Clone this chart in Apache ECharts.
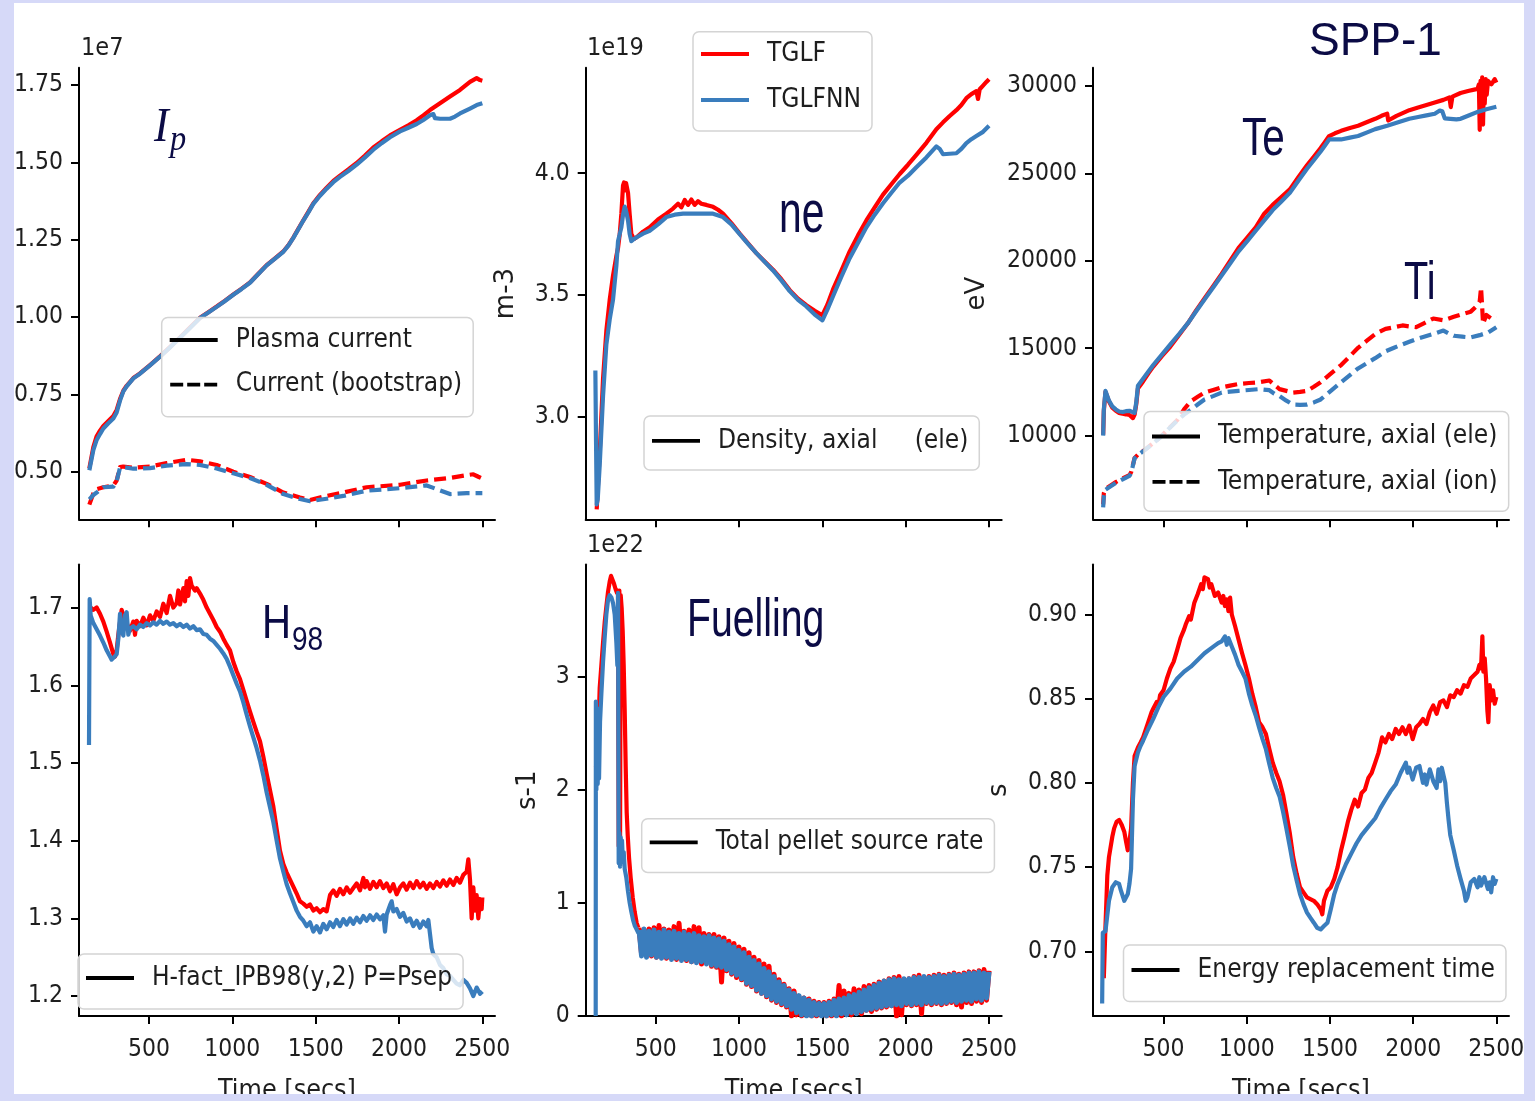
<!DOCTYPE html>
<html>
<head>
<meta charset="utf-8">
<title>SPP-1 : TGLF vs TGLFNN</title>
<script src="https://cdn.jsdelivr.net/npm/echarts@6.0.0/dist/echarts.min.js"></script>
<style>
html,body{margin:0;padding:0;background:#d6d9f8;overflow:hidden;}
#chart{width:1535px;height:1101px;}
</style>
</head>
<body>
<div id="chart"></div>
<script>
// ===================== DATA =====================
const xTicks = [500, 1000, 1500, 2000, 2500];
const ipTicks = [0.50, 0.75, 1.00, 1.25, 1.50, 1.75];
const neTicks = [3.0, 3.5, 4.0];
const teTicks = [10000, 15000, 20000, 25000, 30000];
const h98Ticks = [1.2, 1.3, 1.4, 1.5, 1.6, 1.7];
const fuelTicks = [0, 1, 2, 3];
const tauTicks = [0.70, 0.75, 0.80, 0.85, 0.90];

// Plasma current (1e7 A)
const ipTGLF = [[142,0.511],[166,0.580],[186,0.615],[206,0.633],[226,0.648],[256,0.664],[286,0.680],[306,0.700],[326,0.735],[346,0.762],[366,0.778],[406,0.803],[446,0.818],[506,0.845],[566,0.873],[626,0.903],[686,0.934],[746,0.966],[806,0.998],[856,1.016],[906,1.034],[956,1.053],[1006,1.073],[1056,1.092],[1106,1.112],[1156,1.140],[1206,1.168],[1256,1.190],[1306,1.212],[1336,1.232],[1366,1.257],[1396,1.285],[1426,1.313],[1456,1.340],[1486,1.368],[1526,1.395],[1566,1.418],[1606,1.440],[1646,1.457],[1696,1.477],[1746,1.498],[1796,1.522],[1846,1.548],[1896,1.568],[1946,1.587],[2006,1.605],[2056,1.620],[2106,1.636],[2146,1.652],[2186,1.669],[2246,1.691],[2306,1.713],[2366,1.734],[2426,1.760],[2466,1.772],[2486,1.766],[2500,1.764]];
const ipTGLFNN = [[142,0.505],[166,0.570],[186,0.603],[206,0.622],[226,0.640],[256,0.657],[286,0.672],[306,0.692],[326,0.730],[346,0.760],[366,0.776],[406,0.802],[446,0.817],[506,0.844],[566,0.872],[626,0.902],[686,0.933],[746,0.965],[806,0.997],[856,1.015],[906,1.033],[956,1.052],[1006,1.072],[1056,1.091],[1106,1.111],[1156,1.139],[1206,1.167],[1256,1.189],[1306,1.211],[1336,1.231],[1366,1.256],[1396,1.284],[1426,1.312],[1456,1.338],[1486,1.366],[1526,1.392],[1566,1.415],[1606,1.436],[1646,1.453],[1696,1.472],[1746,1.493],[1796,1.516],[1846,1.541],[1896,1.562],[1946,1.581],[2006,1.600],[2056,1.612],[2106,1.624],[2146,1.637],[2186,1.652],[2206,1.656],[2216,1.643],[2246,1.641],[2306,1.641],[2336,1.648],[2366,1.658],[2426,1.674],[2466,1.685],[2500,1.691]];
const ibsTGLF = [[142,0.394],[166,0.430],[186,0.444],[226,0.450],[286,0.456],[306,0.472],[326,0.515],[346,0.517],[406,0.513],[506,0.517],[606,0.528],[726,0.539],[806,0.534],[906,0.522],[1006,0.500],[1106,0.483],[1206,0.461],[1306,0.433],[1406,0.417],[1466,0.409],[1566,0.422],[1666,0.433],[1806,0.450],[2006,0.458],[2166,0.472],[2306,0.480],[2406,0.489],[2446,0.492],[2476,0.484],[2500,0.478]];
const ibsTGLFNN = [[142,0.411],[166,0.425],[186,0.433],[226,0.450],[286,0.452],[306,0.470],[326,0.513],[346,0.515],[406,0.510],[506,0.512],[606,0.520],[726,0.525],[806,0.522],[906,0.511],[1006,0.495],[1106,0.480],[1206,0.458],[1306,0.428],[1406,0.412],[1466,0.405],[1566,0.413],[1666,0.422],[1806,0.439],[2006,0.447],[2166,0.456],[2206,0.448],[2246,0.440],[2306,0.428],[2406,0.431],[2500,0.431]];

// Axial electron density (1e19 m-3)
const neTGLF = [[146,2.62],[152,2.70],[164,2.85],[184,3.156],[204,3.354],[224,3.48],[244,3.58],[264,3.66],[274,3.693],[284,3.75],[294,3.834],[304,3.95],[310,3.962],[316,3.93],[322,3.96],[334,3.919],[344,3.83],[354,3.75],[370,3.73],[384,3.736],[424,3.76],[464,3.778],[514,3.81],[564,3.834],[604,3.855],[634,3.875],[654,3.86],[674,3.89],[694,3.87],[714,3.892],[734,3.87],[754,3.885],[774,3.875],[804,3.870],[844,3.862],[874,3.85],[904,3.834],[954,3.795],[1004,3.752],[1054,3.712],[1104,3.672],[1154,3.638],[1204,3.604],[1254,3.565],[1304,3.520],[1354,3.485],[1404,3.458],[1454,3.435],[1500,3.417],[1530,3.46],[1564,3.523],[1614,3.600],[1664,3.679],[1714,3.745],[1764,3.806],[1814,3.860],[1864,3.912],[1914,3.955],[1964,3.997],[2014,4.035],[2064,4.075],[2124,4.125],[2184,4.181],[2224,4.209],[2264,4.235],[2304,4.259],[2334,4.280],[2364,4.308],[2394,4.325],[2424,4.337],[2434,4.305],[2444,4.345],[2464,4.360],[2484,4.375],[2500,4.386]];
const neTGLFNN = [[138,3.19],[142,2.90],[146,2.64],[152,2.66],[164,2.80],[184,3.085],[204,3.297],[224,3.40],[244,3.481],[264,3.62],[274,3.721],[284,3.75],[294,3.778],[304,3.83],[314,3.863],[324,3.84],[334,3.806],[344,3.75],[354,3.721],[370,3.73],[384,3.736],[424,3.752],[464,3.764],[514,3.79],[564,3.820],[614,3.830],[664,3.834],[744,3.834],[844,3.834],[904,3.820],[954,3.79],[1004,3.750],[1054,3.71],[1104,3.672],[1154,3.636],[1204,3.601],[1254,3.56],[1304,3.516],[1354,3.48],[1404,3.453],[1454,3.42],[1500,3.396],[1530,3.44],[1564,3.495],[1614,3.575],[1664,3.651],[1714,3.715],[1764,3.778],[1814,3.83],[1864,3.877],[1914,3.92],[1964,3.962],[2014,3.99],[2064,4.025],[2124,4.065],[2184,4.110],[2204,4.100],[2224,4.078],[2264,4.080],[2304,4.082],[2334,4.10],[2364,4.124],[2394,4.14],[2424,4.153],[2464,4.17],[2500,4.195]];

// Axial temperatures (eV)
const teTGLF = [[137,10050],[141,11400],[151,12500],[172,11950],[192,11600],[213,11420],[233,11300],[254,11250],[274,11220],[295,11183],[305,11150],[316,11000],[326,11200],[336,11800],[346,12700],[377,13100],[408,13550],[438,13950],[490,14550],[541,15100],[592,15750],[644,16400],[695,17150],[746,17850],[798,18550],[849,19250],[900,20000],[951,20739],[1003,21330],[1054,21921],[1105,22700],[1156,23202],[1208,23650],[1259,24089],[1310,24780],[1362,25468],[1403,25960],[1444,26453],[1470,26800],[1495,27143],[1530,27300],[1567,27438],[1620,27600],[1669,27734],[1720,27930],[1772,28128],[1810,28300],[1844,28424],[1850,28030],[1900,28300],[1977,28621],[2030,28770],[2080,28916],[2130,29060],[2182,29212],[2218,29350],[2226,28800],[2236,29400],[2285,29606],[2330,29720],[2387,29842],[2395,30100],[2400,27500],[2405,30300],[2410,28300],[2415,30500],[2420,27800],[2425,30200],[2430,29000],[2436,30400],[2442,29500],[2450,30300],[2470,30100],[2490,30400],[2500,30197]];
const teTGLFNN = [[137,10000],[141,11500],[151,12562],[172,12000],[192,11675],[213,11500],[233,11380],[254,11350],[274,11400],[295,11420],[305,11478],[326,11300],[336,11900],[346,12857],[377,13252],[408,13650],[438,14040],[490,14630],[541,15222],[592,15800],[644,16404],[695,17100],[746,17783],[798,18470],[849,19163],[900,19850],[951,20542],[1003,21130],[1054,21724],[1105,22320],[1156,22907],[1208,23400],[1259,23892],[1310,24580],[1362,25271],[1403,25760],[1444,26256],[1470,26600],[1495,26946],[1530,26960],[1567,26946],[1620,27050],[1669,27143],[1720,27340],[1772,27537],[1844,27734],[1910,27930],[1977,28128],[2030,28230],[2080,28325],[2130,28420],[2160,28600],[2175,28560],[2190,28150],[2223,28128],[2260,28100],[2285,28128],[2330,28300],[2387,28522],[2440,28680],[2500,28818]];
const tiTGLF = [[137,6060],[141,6700],[151,6947],[182,7150],[213,7340],[254,7550],[295,7734],[305,7900],[326,8720],[350,8950],[377,9114],[428,9500],[479,9902],[530,10390],[582,10887],[623,11500],[664,11971],[705,12220],[746,12463],[798,12610],[849,12759],[900,12860],[951,12956],[1013,13010],[1074,13055],[1136,13153],[1166,12900],[1197,12660],[1238,12560],[1279,12463],[1320,12500],[1362,12562],[1403,12800],[1444,13055],[1505,13550],[1567,14040],[1618,14530],[1669,15025],[1720,15420],[1772,15812],[1834,16108],[1885,16200],[1936,16305],[1977,16250],[2018,16207],[2070,16450],[2121,16700],[2182,16602],[2244,16798],[2295,16950],[2346,17094],[2380,17400],[2400,17685],[2408,18473],[2414,17500],[2420,16404],[2440,16900],[2470,16700],[2500,16798]];
const tiTGLFNN = [[137,5900],[141,6500],[151,6900],[182,7100],[213,7300],[254,7500],[295,7700],[305,7850],[326,8700],[350,8930],[377,9100],[428,9480],[479,9880],[530,10380],[582,10850],[623,11200],[664,11478],[705,11780],[746,12069],[798,12260],[849,12463],[900,12520],[951,12562],[1013,12610],[1074,12660],[1136,12600],[1166,12400],[1197,12266],[1238,12000],[1279,11774],[1320,11760],[1362,11774],[1403,11900],[1444,12069],[1505,12560],[1567,13055],[1618,13450],[1669,13843],[1720,14140],[1772,14434],[1834,14828],[1885,15030],[1936,15222],[1977,15370],[2018,15517],[2070,15670],[2121,15813],[2182,16010],[2213,15850],[2244,15714],[2295,15660],[2346,15616],[2400,15750],[2450,15900],[2500,16207]];

// H98 confinement factor
const h98TGLF = [[150,1.700],[156,1.701],[166,1.697],[186,1.700],[206,1.692],[226,1.682],[246,1.669],[266,1.655],[286,1.640],[296,1.637],[306,1.645],[316,1.665],[336,1.697],[346,1.690],[366,1.680],[386,1.670],[406,1.682],[416,1.665],[426,1.683],[446,1.676],[466,1.687],[486,1.677],[506,1.690],[526,1.683],[546,1.695],[566,1.688],[586,1.705],[606,1.693],[626,1.715],[646,1.700],[666,1.706],[676,1.722],[686,1.704],[706,1.725],[716,1.708],[726,1.734],[736,1.715],[746,1.738],[756,1.728],[766,1.730],[776,1.722],[786,1.725],[806,1.718],[826,1.710],[846,1.700],[866,1.692],[886,1.684],[906,1.675],[926,1.669],[946,1.660],[966,1.652],[986,1.645],[1006,1.630],[1026,1.618],[1046,1.608],[1066,1.594],[1086,1.580],[1106,1.566],[1126,1.553],[1146,1.540],[1166,1.528],[1186,1.508],[1206,1.486],[1226,1.465],[1246,1.444],[1266,1.415],[1286,1.387],[1306,1.370],[1326,1.359],[1346,1.350],[1366,1.341],[1386,1.332],[1406,1.322],[1426,1.319],[1446,1.315],[1466,1.318],[1486,1.310],[1506,1.313],[1526,1.308],[1546,1.312],[1566,1.309],[1586,1.330],[1606,1.336],[1626,1.329],[1646,1.338],[1666,1.331],[1686,1.340],[1706,1.333],[1726,1.339],[1746,1.345],[1766,1.336],[1786,1.352],[1796,1.340],[1806,1.348],[1826,1.338],[1846,1.347],[1866,1.340],[1886,1.348],[1906,1.339],[1926,1.345],[1946,1.335],[1966,1.344],[1986,1.331],[2006,1.340],[2026,1.345],[2046,1.337],[2066,1.346],[2086,1.339],[2106,1.348],[2126,1.340],[2146,1.346],[2166,1.338],[2186,1.345],[2206,1.339],[2226,1.347],[2246,1.341],[2266,1.349],[2286,1.342],[2306,1.350],[2326,1.343],[2346,1.352],[2366,1.346],[2386,1.356],[2406,1.360],[2416,1.376],[2426,1.350],[2436,1.300],[2446,1.340],[2456,1.310],[2466,1.330],[2476,1.300],[2486,1.325],[2496,1.312],[2500,1.327]];
const h98TGLFNN = [[140,1.523],[144,1.711],[150,1.690],[166,1.680],[186,1.672],[206,1.664],[226,1.655],[246,1.645],[266,1.637],[276,1.633],[290,1.636],[306,1.640],[316,1.660],[326,1.692],[336,1.670],[346,1.664],[356,1.690],[366,1.694],[376,1.665],[386,1.673],[406,1.676],[426,1.672],[446,1.678],[466,1.675],[486,1.680],[506,1.677],[526,1.681],[546,1.678],[566,1.683],[586,1.679],[606,1.682],[626,1.678],[646,1.680],[666,1.676],[686,1.679],[706,1.675],[726,1.678],[746,1.673],[766,1.676],[786,1.671],[806,1.672],[826,1.666],[846,1.665],[866,1.660],[886,1.657],[906,1.652],[926,1.647],[946,1.641],[966,1.634],[986,1.624],[1006,1.613],[1026,1.602],[1046,1.592],[1066,1.578],[1086,1.562],[1106,1.547],[1126,1.533],[1146,1.519],[1166,1.503],[1186,1.484],[1206,1.462],[1226,1.443],[1246,1.424],[1266,1.400],[1286,1.377],[1306,1.360],[1326,1.344],[1346,1.332],[1366,1.321],[1386,1.310],[1406,1.302],[1426,1.297],[1446,1.290],[1466,1.295],[1486,1.283],[1506,1.290],[1526,1.282],[1546,1.293],[1566,1.286],[1586,1.295],[1606,1.289],[1626,1.298],[1646,1.290],[1666,1.299],[1686,1.292],[1706,1.300],[1726,1.293],[1746,1.301],[1766,1.295],[1786,1.303],[1806,1.297],[1826,1.304],[1846,1.298],[1866,1.305],[1886,1.299],[1906,1.304],[1916,1.283],[1926,1.305],[1946,1.317],[1956,1.322],[1966,1.309],[1986,1.312],[2006,1.302],[2026,1.307],[2046,1.296],[2066,1.300],[2086,1.290],[2106,1.297],[2126,1.288],[2146,1.296],[2166,1.290],[2176,1.298],[2186,1.280],[2196,1.262],[2206,1.254],[2226,1.250],[2246,1.240],[2266,1.236],[2286,1.228],[2306,1.226],[2326,1.221],[2346,1.216],[2366,1.214],[2386,1.221],[2406,1.217],[2426,1.210],[2446,1.200],[2466,1.211],[2486,1.203],[2500,1.206]];

// Total pellet source rate (1e22 s-1): rise + hand-read oscillating band (band sampled every 15 s from 400 s)
const fuelTGLFRise = [[142,2.2],[148,2.6],[156,2.5],[164,2.9],[174,3.1],[184,3.3],[194,3.48],[204,3.62],[214,3.75],[224,3.84],[232,3.89],[240,3.88],[250,3.82],[260,3.77],[268,3.74],[274,3.76],[278,1.5],[282,3.76],[286,1.45],[290,3.72],[296,3.6],[302,3.4],[308,3.1],[314,2.7],[320,2.2],[326,1.8],[332,1.6],[340,1.40],[350,1.22],[362,1.05],[374,0.92],[386,0.82],[396,0.78],[400,0.78]];
const fuelTGLFNNRise = [[140,0],[141,2.78],[144,2.0],[148,2.72],[152,2.05],[156,2.65],[160,2.1],[166,2.6],[174,2.85],[184,3.13],[194,3.35],[204,3.55],[214,3.68],[224,3.72],[234,3.70],[244,3.65],[254,3.55],[264,3.30],[270,3.10],[274,3.74],[278,1.35],[282,1.62],[286,1.32],[290,1.58],[294,1.36],[298,1.55],[302,1.40],[308,1.45],[314,1.30],[324,1.22],[334,1.10],[344,1.00],[354,0.92],[364,0.85],[374,0.80],[384,0.77],[394,0.74],[400,0.76]];
const fuelBandStart = 400;
const fuelBandStep = 15;
const fuelTGLFBand = [.78,.55,.76,.54,.77,.53,.78,.52,.80,.53,.77,.51,.76,.52,.79,.50,.82,.51,.75,.49,.76,.48,.79,.49,.78,.46,.73,.47,.72,.44,.72,.43,.70,.30,.69,.40,.66,.37,.64,.34,.61,.32,.59,.28,.56,.26,.52,.22,.49,.20,.46,.17,.44,.14,.37,.12,.32,.10,.28,.08,.24,.00,.22,.01,.17,.00,.16,.02,.15,.00,.13,.00,.12,.01,.12,.00,.13,.00,.15,.01,.27,.00,.22,.02,.20,.01,.24,.03,.23,.02,.26,.05,.27,.04,.28,.06,.30,.07,.31,.08,.33,.09,.34,.00,.35,.01,.32,.10,.33,.09,.35,.10,.36,.02,.34,.11,.35,.10,.36,.11,.37,.10,.36,.11,.37,.12,.38,.10,.37,.08,.38,.12,.39,.11,.39,.13,.40,.12,.41,.14,.40];
const fuelTGLFNNBand = [.76,.53,.77,.52,.75,.54,.76,.52,.74,.51,.76,.52,.74,.50,.75,.51,.73,.49,.74,.50,.72,.48,.73,.47,.71,.48,.70,.46,.71,.45,.69,.44,.68,.43,.66,.41,.63,.38,.61,.36,.58,.33,.56,.29,.52,.27,.49,.23,.46,.20,.42,.18,.39,.15,.35,.13,.30,.11,.27,.09,.23,.06,.20,.03,.18,.01,.16,.00,.14,.00,.12,.01,.11,.00,.11,.00,.12,.01,.14,.00,.15,.02,.16,.01,.18,.03,.19,.02,.21,.04,.23,.05,.25,.06,.27,.07,.29,.08,.31,.09,.32,.09,.33,.10,.32,.09,.33,.11,.33,.10,.34,.11,.34,.10,.35,.12,.34,.11,.35,.12,.36,.11,.35,.12,.36,.13,.37,.12,.36,.13,.37,.14,.38,.13,.38,.15,.39,.14,.38,.16,.39];

// Energy replacement time (s)
const tauTGLF = [[141,0.684],[151,0.715],[162,0.745],[172,0.756],[192,0.768],[203,0.773],[218,0.777],[233,0.778],[249,0.775],[264,0.771],[275,0.765],[285,0.760],[295,0.765],[305,0.773],[316,0.800],[326,0.816],[346,0.821],[362,0.824],[377,0.827],[408,0.836],[428,0.842],[438,0.844],[459,0.848],[469,0.846],[479,0.852],[500,0.855],[520,0.862],[541,0.868],[561,0.872],[582,0.879],[602,0.886],[623,0.891],[633,0.894],[654,0.899],[664,0.897],[685,0.907],[705,0.912],[726,0.918],[736,0.915],[746,0.922],[767,0.921],[777,0.916],[787,0.918],[808,0.911],[828,0.913],[849,0.907],[859,0.911],[869,0.905],[879,0.909],[890,0.902],[900,0.910],[910,0.900],[930,0.893],[951,0.885],[972,0.877],[992,0.870],[1013,0.862],[1033,0.853],[1054,0.845],[1074,0.836],[1095,0.833],[1115,0.829],[1136,0.820],[1156,0.812],[1177,0.806],[1197,0.801],[1218,0.793],[1238,0.782],[1259,0.770],[1279,0.756],[1300,0.746],[1320,0.738],[1341,0.735],[1362,0.732],[1382,0.731],[1403,0.730],[1423,0.728],[1444,0.725],[1454,0.722],[1464,0.730],[1485,0.736],[1505,0.738],[1526,0.743],[1546,0.750],[1567,0.760],[1587,0.768],[1608,0.777],[1628,0.784],[1649,0.790],[1669,0.786],[1690,0.794],[1710,0.796],[1731,0.803],[1751,0.806],[1772,0.812],[1792,0.818],[1813,0.827],[1833,0.824],[1854,0.829],[1874,0.826],[1895,0.832],[1915,0.829],[1936,0.833],[1956,0.829],[1977,0.834],[1997,0.826],[2018,0.833],[2038,0.835],[2059,0.838],[2080,0.835],[2100,0.842],[2121,0.846],[2141,0.841],[2162,0.848],[2182,0.849],[2203,0.845],[2223,0.852],[2244,0.851],[2264,0.855],[2285,0.853],[2305,0.858],[2326,0.857],[2346,0.862],[2367,0.864],[2387,0.866],[2398,0.870],[2408,0.868],[2416,0.887],[2422,0.866],[2430,0.874],[2438,0.862],[2446,0.843],[2452,0.836],[2460,0.858],[2470,0.849],[2480,0.855],[2490,0.847],[2500,0.851]];
const tauTGLFNN = [[131,0.669],[135,0.711],[151,0.712],[172,0.730],[192,0.738],[213,0.741],[233,0.740],[244,0.736],[264,0.730],[275,0.729],[285,0.734],[295,0.740],[305,0.749],[316,0.790],[326,0.810],[336,0.814],[346,0.818],[362,0.822],[377,0.825],[408,0.832],[438,0.838],[469,0.845],[500,0.851],[541,0.856],[582,0.862],[623,0.866],[664,0.869],[705,0.873],[746,0.877],[787,0.880],[828,0.883],[849,0.884],[869,0.887],[880,0.882],[890,0.886],[910,0.881],[930,0.876],[951,0.870],[972,0.866],[992,0.862],[1013,0.853],[1033,0.846],[1054,0.840],[1074,0.833],[1095,0.826],[1115,0.820],[1136,0.811],[1156,0.803],[1177,0.797],[1197,0.792],[1218,0.783],[1238,0.773],[1259,0.762],[1279,0.751],[1300,0.742],[1320,0.734],[1341,0.728],[1362,0.723],[1382,0.720],[1403,0.717],[1423,0.714],[1444,0.713],[1464,0.715],[1485,0.717],[1505,0.725],[1526,0.734],[1546,0.740],[1567,0.745],[1597,0.752],[1628,0.758],[1659,0.764],[1690,0.769],[1731,0.774],[1772,0.779],[1803,0.785],[1833,0.790],[1864,0.795],[1895,0.799],[1925,0.806],[1946,0.810],[1956,0.812],[1966,0.806],[1977,0.809],[1997,0.802],[2018,0.809],[2038,0.810],[2059,0.800],[2070,0.805],[2080,0.799],[2100,0.808],[2121,0.801],[2141,0.797],[2152,0.808],[2162,0.801],[2172,0.809],[2182,0.810],[2193,0.800],[2203,0.788],[2213,0.778],[2223,0.769],[2244,0.760],[2264,0.751],[2285,0.743],[2305,0.736],[2316,0.730],[2326,0.732],[2346,0.741],[2367,0.743],[2387,0.738],[2398,0.744],[2408,0.739],[2428,0.744],[2449,0.737],[2459,0.741],[2469,0.735],[2480,0.744],[2490,0.740],[2500,0.743]];

// ===================== FONTS =====================
const mctx = document.createElement('canvas').getContext('2d');
function mw(text, fam) { mctx.font = '100px ' + fam; return mctx.measureText(text).width; }
const probe = 'Temperature, axial (ele)';
const useCond = mw(probe, '"DejaVu Sans Condensed", monospace') < 0.97 * mw(probe, '"DejaVu Sans", monospace');
const REG = '"DejaVu Sans", sans-serif';
const FAM = useCond ? '"DejaVu Sans Condensed", "DejaVu Sans", sans-serif' : REG;
function fit(text, w) { return 100 * w / mw(text, FAM); }
const TICK_FS = fit('00000', 70);
const LEG_FS = fit(probe, 279.5);
const XNAME_FS = fit('Time [secs]', 138);
const OFF_FS = fit('1e19', 57);
const TXT = '#1e1e1e';
const RED = '#ff0000', BLUE = '#3a7dbd', NAVY = '#0b0b45', LAV = '#d6d9f8';
const SANS = '"Liberation Sans", Arial, sans-serif';
const SERIF = '"Liberation Serif", "DejaVu Serif", serif';
const LINE_W = 4.2;
const BAND_W = 5;

// ===================== LAYOUT =====================
const grids = [
  {left: 79, top: 67.8, width: 416, height: 451.5},
  {left: 585.7, top: 67.8, width: 416, height: 451.5},
  {left: 1093, top: 67.8, width: 416, height: 451.5},
  {left: 79, top: 564.6, width: 416, height: 451.4},
  {left: 585.7, top: 564.6, width: 416, height: 451.4},
  {left: 1093, top: 564.6, width: 416, height: 451.4}
].map(g => Object.assign({outerBoundsMode: 'none', containLabel: false}, g));

const xMins = [80, 80, 76, 80, 80, 76];

function xAxis(gi) {
  const bottom = gi >= 3;
  return {
    type: 'value', gridIndex: gi, min: xMins[gi], max: 2576,
    axisLine: {show: true, onZero: false, lineStyle: {color: '#000', width: 2}},
    axisTick: {show: true, length: 8, lineStyle: {color: '#000', width: 2}, customValues: xTicks},
    axisLabel: {show: bottom, customValues: xTicks, margin: 22, color: TXT, fontFamily: FAM, fontSize: TICK_FS, formatter: v => String(v)},
    splitLine: {show: false},
    name: bottom ? 'Time [secs]' : '', nameLocation: 'middle', nameGap: 62, nameMoveOverlap: false,
    nameTextStyle: {fontFamily: FAM, fontSize: XNAME_FS, color: TXT}
  };
}
function yAxis(gi, min, max, ticks, dec, name, gap) {
  return {
    type: 'value', gridIndex: gi, min: min, max: max,
    axisLine: {show: true, onZero: false, lineStyle: {color: '#000', width: 2}},
    axisTick: {show: true, length: 8, lineStyle: {color: '#000', width: 2}, customValues: ticks},
    axisLabel: {show: true, customValues: ticks, margin: 16, color: TXT, fontFamily: FAM, fontSize: TICK_FS, formatter: v => Number(v).toFixed(dec)},
    splitLine: {show: false},
    name: name || '', nameLocation: 'middle', nameGap: gap || 40, nameRotate: 90, nameMoveOverlap: false,
    nameTextStyle: {fontFamily: REG, fontSize: 26, color: TXT}
  };
}

function ser(name, color, data, gi, dashed, width) {
  return {
    type: 'line', name: name, data: data, xAxisIndex: gi, yAxisIndex: gi, color: color,
    symbol: 'none', showSymbol: false, silent: true, animation: false, clip: true,
    lineStyle: {color: color, width: width || LINE_W, type: dashed ? [12, 6] : 'solid', join: 'round'}
  };
}
function dummy(name, gi) {
  return {type: 'line', name: name, data: [], xAxisIndex: gi, yAxisIndex: gi, color: '#000', symbol: 'none', silent: true, animation: false};
}
function sampled(t0, dt, vals) { return vals.map((v, i) => [t0 + dt * i, v]); }

const DASH_ICON = 'path://M0,0h13v3.8h-13z M17,0h13v3.8h-13z M34,0h13v3.8h-13z';
function leg(items, left, top, padTop, padBottom, gap) {
  return {
    orient: 'vertical', left: left, top: top, itemWidth: 48, itemHeight: 3.8, itemGap: gap || 15,
    data: items.map(it => ({name: it[0], icon: it[1] ? DASH_ICON : 'rect'})),
    padding: [padTop, 11, padBottom, 8],
    backgroundColor: 'rgba(255,255,255,0.8)', borderColor: '#d4d4d4', borderWidth: 1.5, borderRadius: 6,
    selectedMode: false, itemStyle: {borderWidth: 0},
    textStyle: {fontFamily: FAM, fontSize: LEG_FS, color: TXT, lineHeight: 30, padding: [0, 0, 0, 13]}
  };
}
function note(text, x, y, size, sx, fam, fstyle) {
  return {type: 'text', x: x, y: y, scaleX: sx, z: 50, silent: true,
    style: {text: text, fontSize: size, fontFamily: fam || SANS, fontStyle: fstyle || 'normal', fill: NAVY, align: 'left', verticalAlign: 'middle'}};
}
function offText(text, x, y) {
  return {type: 'text', x: x, y: y, z: 50, silent: true,
    style: {text: text, fontSize: OFF_FS, fontFamily: FAM, fill: TXT, align: 'left', verticalAlign: 'middle'}};
}
function band(x, y, w, h) {
  return {type: 'rect', z: 200, silent: true, shape: {x: x, y: y, width: w, height: h}, style: {fill: LAV}};
}

const option = {
  backgroundColor: '#ffffff',
  animation: false,
  grid: grids,
  xAxis: [0, 1, 2, 3, 4, 5].map(xAxis),
  yAxis: [
    yAxis(0, 0.3465, 1.8056, ipTicks, 2),
    yAxis(1, 2.579, 4.433, neTicks, 1, 'm-3', 66),
    yAxis(2, 5212, 31047, teTicks, 0, 'eV', 103),
    yAxis(3, 1.1744, 1.7553, h98Ticks, 1),
    yAxis(4, 0, 3.99, fuelTicks, 0, 's-1', 44),
    yAxis(5, 0.6616, 0.9296, tauTicks, 2, 's', 81)
  ],
  legend: [
    leg([['Plasma current', 0], ['Current (bootstrap)', 1]], 161.7, 317.5, 7.5, 17, 14.7),
    leg([['TGLF', 0], ['TGLFNN', 0]], 693, 31.7, 7.3, 16, 16),
    leg([['Density, axial     (ele)', 0]], 644, 416, 9.8, 14.2),
    leg([['Temperature, axial (ele)', 0], ['Temperature, axial (ion)', 1]], 1144, 411.5, 10, 14.4, 15.4),
    leg([['H-fact_IPB98(y,2) P=Psep', 0]], 78, 954, 9, 16),
    leg([['Total pellet source rate', 0]], 641.7, 818.8, 8.6, 15),
    leg([['Energy replacement time', 0]], 1123.5, 945, 10, 16.6)
  ],
  series: [
    ser('TGLF', RED, ipTGLF, 0), ser('TGLF', RED, ibsTGLF, 0, true),
    ser('TGLFNN', BLUE, ipTGLFNN, 0), ser('TGLFNN', BLUE, ibsTGLFNN, 0, true),
    ser('TGLF', RED, neTGLF, 1), ser('TGLFNN', BLUE, neTGLFNN, 1),
    ser('TGLF', RED, teTGLF, 2), ser('TGLF', RED, tiTGLF, 2, true),
    ser('TGLFNN', BLUE, teTGLFNN, 2), ser('TGLFNN', BLUE, tiTGLFNN, 2, true),
    ser('TGLF', RED, h98TGLF, 3), ser('TGLFNN', BLUE, h98TGLFNN, 3),
    ser('TGLF', RED, fuelTGLFRise, 4),
    ser('TGLF', RED, sampled(fuelBandStart, fuelBandStep, fuelTGLFBand), 4, false, BAND_W),
    ser('TGLFNN', BLUE, fuelTGLFNNRise, 4),
    ser('TGLFNN', BLUE, sampled(fuelBandStart, fuelBandStep, fuelTGLFNNBand), 4, false, BAND_W),
    ser('TGLF', RED, tauTGLF, 5), ser('TGLFNN', BLUE, tauTGLFNN, 5),
    dummy('Plasma current', 0), dummy('Current (bootstrap)', 0),
    dummy('Density, axial     (ele)', 1),
    dummy('Temperature, axial (ele)', 2), dummy('Temperature, axial (ion)', 2),
    dummy('H-fact_IPB98(y,2) P=Psep', 3), dummy('Total pellet source rate', 4), dummy('Energy replacement time', 5)
  ],
  graphic: [
    offText('1e7', 81, 48), offText('1e19', 587, 48), offText('1e22', 587, 545),
    note('I', 154, 128, 49, 0.9, SERIF, 'italic'),
    note('p', 170, 141, 36, 0.9, SERIF, 'italic'),
    note('ne', 779, 215, 60, 0.68),
    note('Te', 1242, 140, 53, 0.765),
    note('Ti', 1404, 284.5, 53, 0.75),
    note('SPP-1', 1309, 42, 46, 1),
    note('H', 262, 624.5, 49, 0.82),
    note('98', 292, 641, 33, 0.85),
    note('Fuelling', 687, 621, 53, 0.74),
    band(0, 0, 14, 1101), band(0, 0, 1535, 3), band(1524, 0, 11, 1101), band(0, 1094, 1535, 7)
  ]
};

const chart = echarts.init(document.getElementById('chart'), null, {renderer: 'canvas'});
chart.setOption(option);
</script>
</body>
</html>
